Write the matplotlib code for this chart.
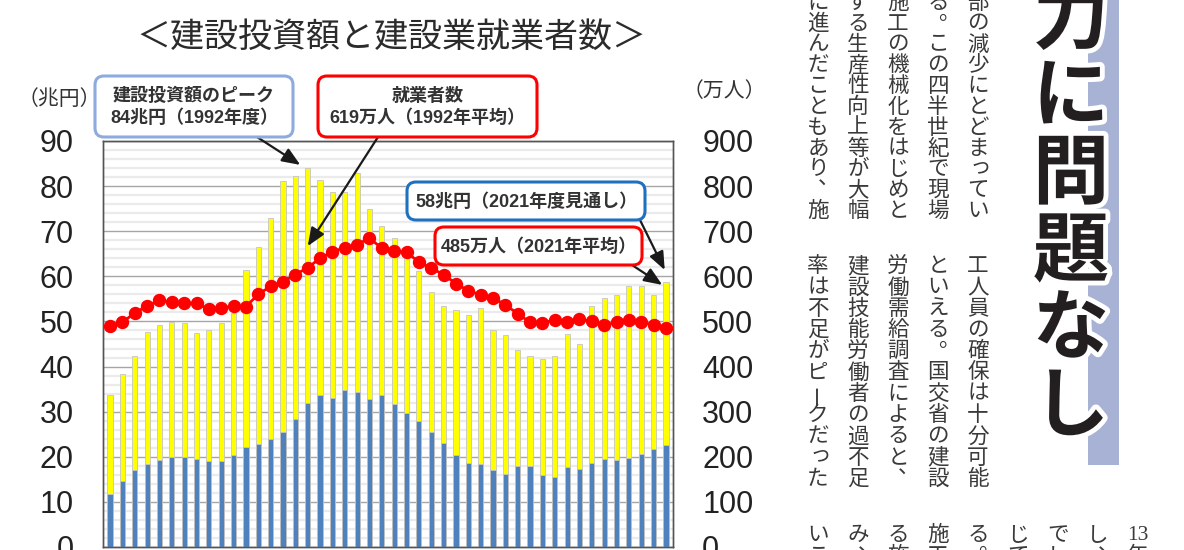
import re
import matplotlib
matplotlib.use('Agg')
import matplotlib.pyplot as plt
import matplotlib.patheffects as pe
from matplotlib.patches import FancyBboxPatch, Rectangle
from matplotlib.ticker import MultipleLocator

plt.rcParams['font.family'] = ['Liberation Sans', 'Noto Sans CJK JP']

# ---- data ----
years = list(range(1976, 2022))
# 建設投資額 (兆円), yellow bars
invest_total = [33.8, 38.4, 42.4, 47.7, 49.2, 49.9, 49.7, 47.4, 48.2, 49.7,
                51.9, 61.3, 66.5, 73.0, 81.2, 82.3, 84.0, 81.4, 78.6, 78.8,
                82.8, 75.0, 71.2, 68.4, 66.2, 61.2, 56.6, 53.4, 52.5, 51.4,
                53.0, 48.2, 47.1, 43.6, 42.3, 41.7, 42.4, 47.3, 44.9, 53.4,
                55.3, 55.9, 57.9, 57.9, 55.9, 58.7]
# blue part of the bars (兆円)
invest_gov = [11.8, 14.7, 17.1, 18.4, 19.2, 19.9, 19.9, 19.5, 19.0, 19.0,
              20.4, 22.1, 22.9, 23.9, 25.4, 28.4, 31.9, 33.8, 33.0, 34.9,
              34.3, 32.7, 33.6, 31.6, 29.6, 27.9, 25.6, 23.0, 20.4, 18.7,
              18.4, 17.1, 16.1, 17.9, 17.9, 15.9, 15.6, 17.7, 17.3, 18.7,
              19.5, 19.2, 19.7, 20.7, 21.7, 22.7]
# 建設業就業者数 (万人), red dots
workers = [490, 498, 519, 534, 547, 543, 540, 540, 527, 530,
           534, 533, 560, 578, 588, 604, 619, 640, 655, 663,
           670, 685, 662, 657, 653, 632, 618, 604, 584, 568,
           559, 552, 537, 517, 498, 497, 503, 499, 505, 500,
           492, 498, 503, 499, 492, 485]

left_ticks = list(range(0, 91, 10))
right_ticks = list(range(0, 901, 100))

title = '＜建設投資額と建設業就業者数＞'
left_unit = '（兆円）'
right_unit = '（万人）'
note_peak_inv = '建設投資額のピーク\n84兆円（1992年度）'
note_peak_wrk = '就業者数\n619万人（1992年平均）'
note_now_inv = '58兆円（2021年度見通し）'
note_now_wrk = '485万人（2021年平均）'

headline = '力に問題なし'
# article columns, right to left
upper_cols = ['部の減少にとどまってい', 'る。この四半世紀で現場', '施工の機械化をはじめと',
              'する生産性向上等が大幅', 'に進んだこともあり、施']
lower_cols = ['工人員の確保は十分可能', 'といえる。国交省の建設', '労働需給調査によると、',
              '建設技能労働者の過不足', '率は不足がピークだった']
bottom_cols = ['13年', 'し、', 'でし', 'じて', 'る。', '施工', 'る施', 'み、', 'いこ']

# ---- figure ----
W, H = 1184, 550
fig = plt.figure(figsize=(W / 100, H / 100), dpi=100)
ax = fig.add_axes([103 / W, 3 / H, 570 / W, 406 / H])

ax.bar(years, invest_total, width=0.42, color='#ffff00', edgecolor='#c4c4c4', linewidth=0.6, zorder=2)
ax.bar(years, invest_gov, width=0.42, color='#4f81bd', edgecolor='#c4c4c4', linewidth=0.6, zorder=3)
ax.set_xlim(years[0] - 0.57, years[-1] + 0.57)
ax.set_ylim(0, 90)
ax.set_yticks(left_ticks)
ax.yaxis.set_minor_locator(MultipleLocator(2))
ax.grid(which='minor', axis='y', color='#ebebeb', linewidth=1.6)
ax.grid(which='major', axis='y', color='#a6a6a6', linewidth=1.0)
ax.set_axisbelow(True)
ax.set_xticks([])
ax.tick_params(axis='y', which='both', length=0, pad=21, labelsize=22, labelcolor='#222222')

ax2 = ax.twinx()
ax2.plot(years, workers, color='#ff0000', linewidth=2, marker='o', markersize=8.6, zorder=4)
ax2.set_ylim(0, 900)
ax2.set_yticks(right_ticks)
ax2.tick_params(axis='y', length=0, pad=21, labelsize=22, labelcolor='#222222')
for a in (ax, ax2):
    for sp in a.spines.values():
        sp.set_color('#555555')
        sp.set_linewidth(1.0)

# ---- overlay in pixel coordinates ----
ov = fig.add_axes([0, 0, 1, 1])
ov.set_xlim(0, W)
ov.set_ylim(H, 0)
ov.axis('off')

ov.text(391, 37, title, fontsize=24.5, color='#2b2b2b', ha='center', va='center',
        family=['Noto Sans CJK JP'])
ov.text(59, 99, left_unit, fontsize=15, color='#333333', ha='center', va='center',
        family=['Noto Sans CJK JP'])
ov.text(724, 91, right_unit, fontsize=15, color='#333333', ha='center', va='center',
        family=['Noto Sans CJK JP'])


def note(x0, y0, x1, y1, txt, ec):
    ov.add_patch(FancyBboxPatch((x0, y0), x1 - x0, y1 - y0,
                                boxstyle='round,pad=0,rounding_size=9',
                                facecolor='white', edgecolor=ec, linewidth=2.2, zorder=5))
    ov.text((x0 + x1) / 2, (y0 + y1) / 2 + 1, txt, fontsize=13, fontweight='bold', color='#333333',
            ha='center', va='center', linespacing=1.35, zorder=6)


note(95, 76, 293, 137, note_peak_inv, '#8faadc')
note(318, 76, 537, 137, note_peak_wrk, '#ff0000')
note(407, 182, 645, 220, note_now_inv, '#1f70bf')
note(435, 227, 642, 265, note_now_wrk, '#ff0000')

arrow = dict(arrowstyle='-|>,head_length=1.1,head_width=0.45', color='#1a1a1a',
             linewidth=1.6, shrinkA=0, shrinkB=0)
ov.annotate('', xy=(1991.4, 84.7), xycoords=ax.transData, xytext=(257, 137),
            textcoords='data', arrowprops=arrow, annotation_clip=False)
ov.annotate('', xy=(1992.0, 66.7), xycoords=ax.transData, xytext=(378, 137),
            textcoords='data', arrowprops=arrow, annotation_clip=False)
ov.annotate('', xy=(2020.9, 61.4), xycoords=ax.transData, xytext=(640, 220),
            textcoords='data', arrowprops=arrow, annotation_clip=False)
ov.annotate('', xy=(2020.7, 58.1), xycoords=ax.transData, xytext=(632, 265),
            textcoords='data', arrowprops=arrow, annotation_clip=False)

# ---- article side ----
ov.add_patch(Rectangle((1088, 0), 31, 465, facecolor='#a7b2d4', edgecolor='none', zorder=1))
for i, ch in enumerate(headline):
    ov.text(1071, 20 + i * 77.5, ch, fontsize=55, fontweight='bold', color='#231f20',
            family=['Noto Sans CJK JP'], ha='center', va='center', zorder=3,
            path_effects=[pe.Stroke(linewidth=7, foreground='white'), pe.Normal()])


def vcol(x, y0, pitch, s):
    for i, tok in enumerate(re.findall(r'\d+|.', s)):
        dx, dy, rot = 0, 0, 0
        fam = ['Noto Sans CJK JP']
        if tok in '、。':
            dx, dy = 11, -11
        elif tok in 'っゃゅょ':
            dx, dy = 2, -3
        elif tok == 'ー':
            rot = 90
        elif tok.isdigit():
            fam = ['Liberation Serif']
        ov.text(x + dx, y0 + i * pitch + dy, tok, fontsize=15.5, color='#3a3a3a',
                family=fam, ha='center', va='center', rotation=rot)


for i, s in enumerate(upper_cols):
    vcol(978 - 40 * i, 3, 20.8, s)
for i, s in enumerate(lower_cols):
    vcol(978 - 40 * i, 266, 21.3, s)
for i, s in enumerate(bottom_cols):
    vcol(1138 - 40 * i, 535, 21.3, s)

fig.savefig('out.png', dpi=100)
